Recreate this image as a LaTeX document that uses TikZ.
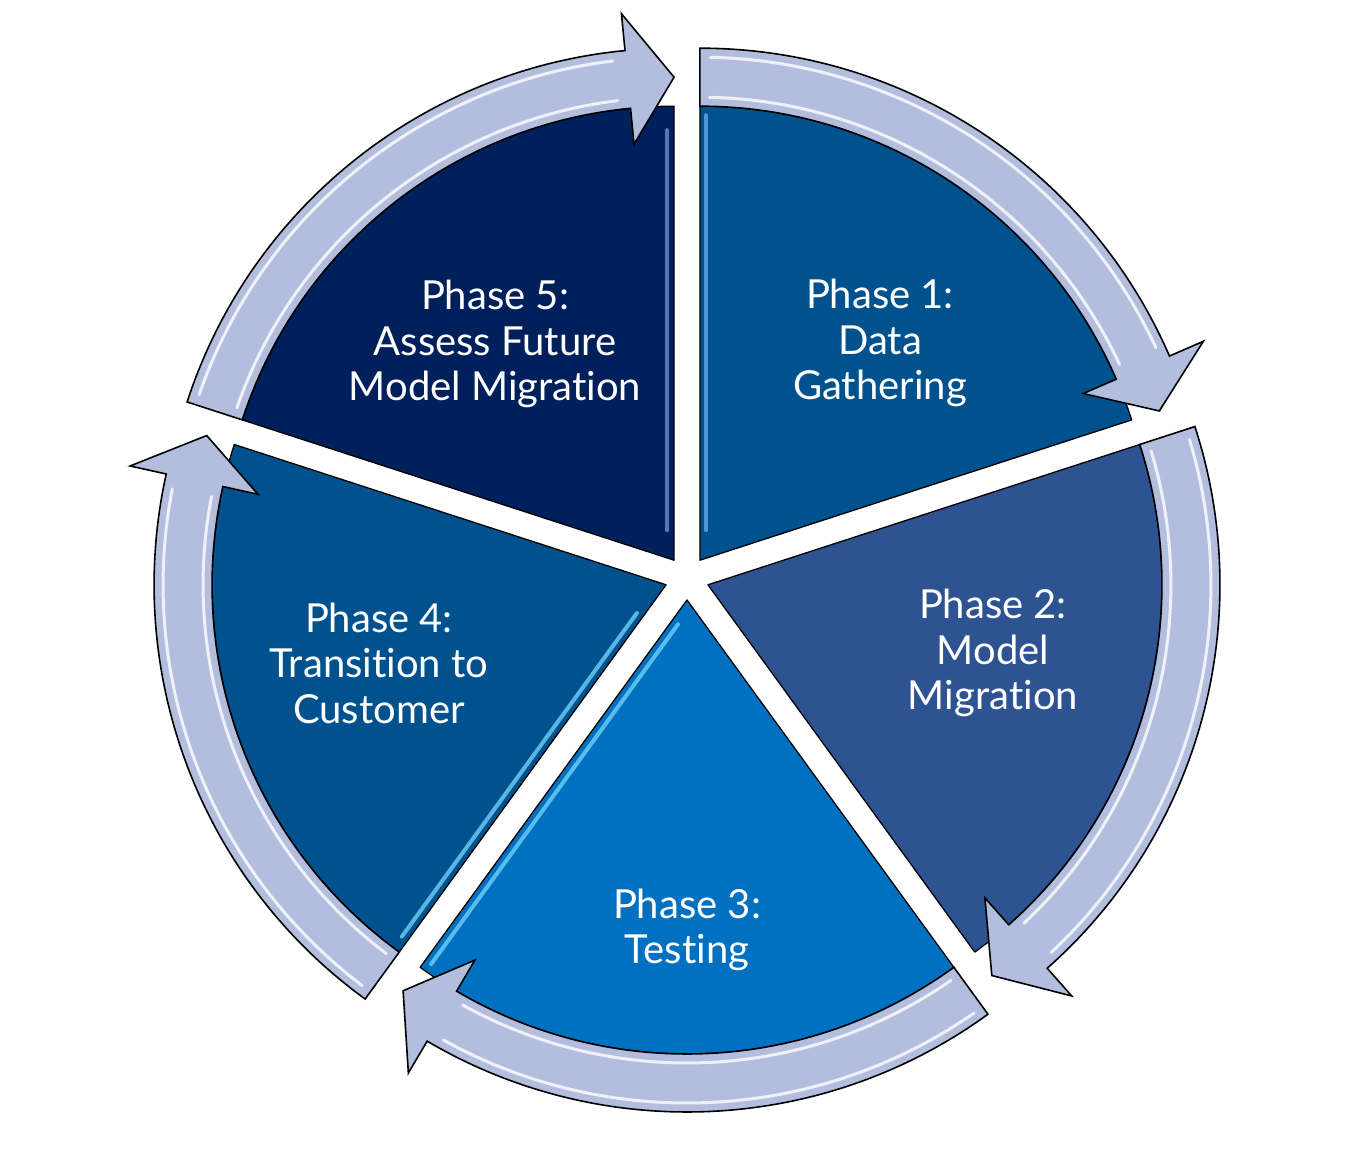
\documentclass[tikz,border=0pt]{standalone}
\usepackage{fontspec}
\setmainfont{Lato}[Ligatures={NoCommon,NoContextual}]
\usetikzlibrary{calc}
\definecolor{pone}{HTML}{00528F}
\definecolor{ptwo}{HTML}{2E5393}
\definecolor{pthree}{HTML}{0070C0}
\definecolor{pfour}{HTML}{00528F}
\definecolor{pfive}{HTML}{00205C}
\definecolor{arrowc}{HTML}{B3BDDE}
\definecolor{hlblue}{HTML}{5FA8E6}
\definecolor{hlcyan}{HTML}{6FD0FA}
\definecolor{hlnavy}{HTML}{6F8CCB}
\newcommand\cycseg[4]{% center, start angle, end angle, colour
  \begin{scope}[shift={(#1)}]
    \draw[segbox, fill=#4] (0,0) -- (#2:454) arc[start angle=#2, end angle=#3, radius=454] -- cycle;
  \end{scope}}
\newcommand\cycarrow[3]{% center, start angle, end angle (clockwise)
  \begin{scope}[shift={(#1)}]
    \pgfmathsetmacro\hb{#3+5.5}
    \pgfmathsetmacro\sa{#2-1.2}
    \pgfmathsetmacro\ea{#3+7}
    \draw[arrbox] (#2:512) arc[start angle=#2, end angle=\hb, radius=512]
      -- (\hb:549) -- (#3:483) -- (\hb:418) -- (\hb:454)
      arc[start angle=\hb, end angle=#2, radius=454] -- cycle;
    \draw[arrhl] (\sa:503) arc[start angle=\sa, end angle=\ea, radius=503];
    \draw[arrhl] (\sa:463) arc[start angle=\sa, end angle=\ea, radius=463];
  \end{scope}}
\begin{document}
\begin{tikzpicture}[x=1pt,y=1pt,
  segbox/.style={draw=black, line width=1.3, line join=round},
  arrbox/.style={fill=arrowc, draw=black, line width=1.6, line join=miter},
  arrhl/.style={draw=white, line width=3, opacity=0.8, line cap=round},
  seghl/.style={line width=4, opacity=0.8, line cap=round},
  lbl/.style={text=white, align=center, font=\fontsize{40}{45.5}\selectfont}]
\useasboundingbox (0,0) rectangle (1370,1160);
\fill[white] (0,0) rectangle (1370,1160);
\coordinate (C) at (687,582);
\coordinate (S1) at ($(C)+(54:22)$);
\coordinate (S2) at ($(C)+(-18:22)$);
\coordinate (S3) at ($(C)+(-90:22)$);
\coordinate (S4) at ($(C)+(198:22)$);
\coordinate (S5) at ($(C)+(126:22)$);
% segments
\cycseg{S1}{90}{18}{pone}
\cycseg{S2}{18}{-54}{ptwo}
\cycseg{S3}{-54}{-126}{pthree}
\cycseg{S4}{234}{162}{pfour}
\cycseg{S5}{162}{90}{pfive}
% bevel highlights
\begin{scope}[shift={(S1)}]
  \draw[seghl, hlblue] (90:30) ++(0:6) -- ++(90:415);
\end{scope}
\begin{scope}[shift={(S5)}]
  \draw[seghl, hlnavy] (90:30) ++(180:7) -- ++(90:400);
\end{scope}
\begin{scope}[shift={(S3)}]
  \draw[seghl, hlcyan] (234:25) ++(324:7) -- ++(234:420);
\end{scope}
\begin{scope}[shift={(S4)}]
  \draw[seghl, hlcyan] (234:40) ++(144:7) -- ++(234:400);
\end{scope}
% arrows
\cycarrow{S1}{90}{18}
\cycarrow{S2}{18}{-54}
\cycarrow{S3}{-54}{-126}
\cycarrow{S4}{234}{162}
\cycarrow{S5}{162}{90}
% labels
\node[lbl] (t1) at (880,817) {Phase 1:\\Data\\Gathering};
\node[lbl] (t2) at (993,507) {Phase 2:\\Model\\Migration};
\node[lbl] (t3) at (687,230) {Phase 3:\\Testing};
\node[lbl] (t4) at (379,497) {Phase 4:\\Transition to\\Customer};
\node[lbl] (t5) at (495,816) {Phase 5:\\Assess Future\\Model Migration};
\end{tikzpicture}
\end{document}
